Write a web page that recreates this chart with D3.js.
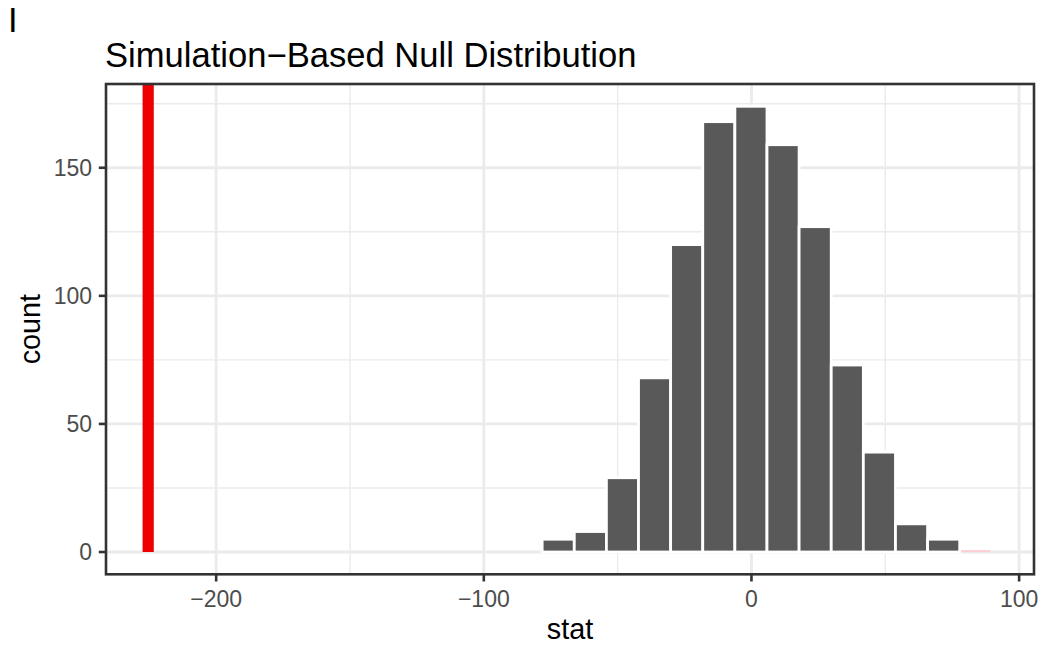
<!DOCTYPE html>
<html><head><meta charset="utf-8">
<script src="https://cdn.jsdelivr.net/npm/d3@7"></script>
<style>body{margin:0;background:#fff} text{font-family:"Liberation Sans",Arial,Helvetica,sans-serif}</style>
</head><body><svg id="chart" width="1041" height="645"></svg>
<script>
// ---- data ----
const binLow  = [-90.2,-78.2,-66.2,-54.2,-42.2,-30.2,-18.2,-6.2,5.8,17.8,29.8,41.8,53.8,65.8,77.8];
const binHigh = [-78.2,-66.2,-54.2,-42.2,-30.2,-18.2,-6.2,5.8,17.8,29.8,41.8,53.8,65.8,77.8,89.8];
const binCounts = [0,5,8,29,68,120,168,174,159,127,73,39,11,5,0];
const binShaded = [false,false,false,false,false,false,false,false,false,false,false,false,false,false,true];
const obsStat = -225.4;
const xMajor = [-200,-100,0,100];
const xMinor = [-150,-50,50];
const yMajor = [0,50,100,150];
const yMinor = [25,75,125,175];
const titleText = "Simulation\u2212Based Null Distribution";
const tagText = "I";
const xTitle = "stat", yTitle = "count";

// ---- layout ----
const P = {l:106, r:1034, t:84, b:574.3};
const svg = d3.select("#chart");
const xmin = Math.min(obsStat, d3.min(binLow)), xmax = d3.max(binHigh);
const xr = xmax - xmin;
const x = d3.scaleLinear().domain([xmin - 0.05*xr, xmax + 0.05*xr]).range([P.l, P.r]);
const ymaxD = d3.max(binCounts);
const y = d3.scaleLinear().domain([-0.05*ymaxD, ymaxD*1.05]).range([P.b, P.t]);

const grid = "#EBEBEB";
const g = svg.append("g");
g.append("rect").attr("x",P.l).attr("y",P.t).attr("width",P.r-P.l).attr("height",P.b-P.t).attr("fill","#fff");
// minor grid
g.selectAll(".gxm").data(xMinor).join("line").attr("x1",d=>x(d)).attr("x2",d=>x(d)).attr("y1",P.t).attr("y2",P.b).attr("stroke",grid).attr("stroke-width",1.4);
g.selectAll(".gym").data(yMinor).join("line").attr("y1",d=>y(d)).attr("y2",d=>y(d)).attr("x1",P.l).attr("x2",P.r).attr("stroke",grid).attr("stroke-width",1.4);
// major grid
g.selectAll(".gxM").data(xMajor).join("line").attr("x1",d=>x(d)).attr("x2",d=>x(d)).attr("y1",P.t).attr("y2",P.b).attr("stroke",grid).attr("stroke-width",2.8);
g.selectAll(".gyM").data(yMajor).join("line").attr("y1",d=>y(d)).attr("y2",d=>y(d)).attr("x1",P.l).attr("x2",P.r).attr("stroke",grid).attr("stroke-width",2.8);

// bars
const bins = binLow.map((lo,i)=>({lo, hi:binHigh[i], n:binCounts[i], s:binShaded[i]}));
g.selectAll(".bar").data(bins).join("rect")
  .attr("x",d=>x(d.lo)).attr("width",d=>x(d.hi)-x(d.lo))
  .attr("y",d=>y(d.n)).attr("height",d=>y(0)-y(d.n))
  .attr("fill","#595959").attr("stroke","#fff").attr("stroke-width",2.8);
g.selectAll(".shade").data(bins.filter(d=>d.s)).join("rect")
  .attr("x",d=>x(d.lo)+1.4).attr("width",d=>x(d.hi)-x(d.lo)-2.8)
  .attr("y",d=>y(d.n)-1.8).attr("height",1.6)
  .attr("fill","#FFC8D2");

// observed stat
g.append("line").attr("x1",x(obsStat)).attr("x2",x(obsStat)).attr("y1",y(0)).attr("y2",P.t)
  .attr("stroke","#EE0000").attr("stroke-width",11.2);

// border
g.append("rect").attr("x",P.l).attr("y",P.t).attr("width",P.r-P.l).attr("height",P.b-P.t).attr("fill","none").attr("stroke","#333333").attr("stroke-width",2.6);

// ticks
const tk = 7.2;
g.selectAll(".tx").data(xMajor).join("line").attr("x1",d=>x(d)).attr("x2",d=>x(d)).attr("y1",P.b).attr("y2",P.b+tk).attr("stroke","#333333").attr("stroke-width",2.6);
g.selectAll(".ty").data(yMajor).join("line").attr("y1",d=>y(d)).attr("y2",d=>y(d)).attr("x1",P.l-tk).attr("x2",P.l).attr("stroke","#333333").attr("stroke-width",2.6);
const fmt = d => d < 0 ? "\u2212" + Math.abs(d) : String(d);
g.selectAll(".lx").data(xMajor).join("text").attr("x",d=>x(d)).attr("y",607).attr("text-anchor","middle")
  .attr("font-size",23).attr("fill","#4D4D4D").text(fmt);
g.selectAll(".ly").data(yMajor).join("text").attr("x",92).attr("y",d=>y(d)+8.3).attr("text-anchor","end")
  .attr("font-size",23).attr("fill","#4D4D4D").text(fmt);

// titles
svg.append("text").attr("x",(P.l+P.r)/2).attr("y",639).attr("text-anchor","middle").attr("font-size",28.8).attr("fill","#000").text(xTitle);
svg.append("text").attr("transform",`translate(40,${(P.t+P.b)/2}) rotate(-90)`).attr("text-anchor","middle").attr("font-size",28.8).attr("fill","#000").text(yTitle);
svg.append("text").attr("x",105).attr("y",67).attr("font-size",34.6).attr("fill","#000").text(titleText);
svg.append("text").attr("x",8).attr("y",32).attr("font-size",34.6).attr("fill","#000").text(tagText);
</script></body></html>
